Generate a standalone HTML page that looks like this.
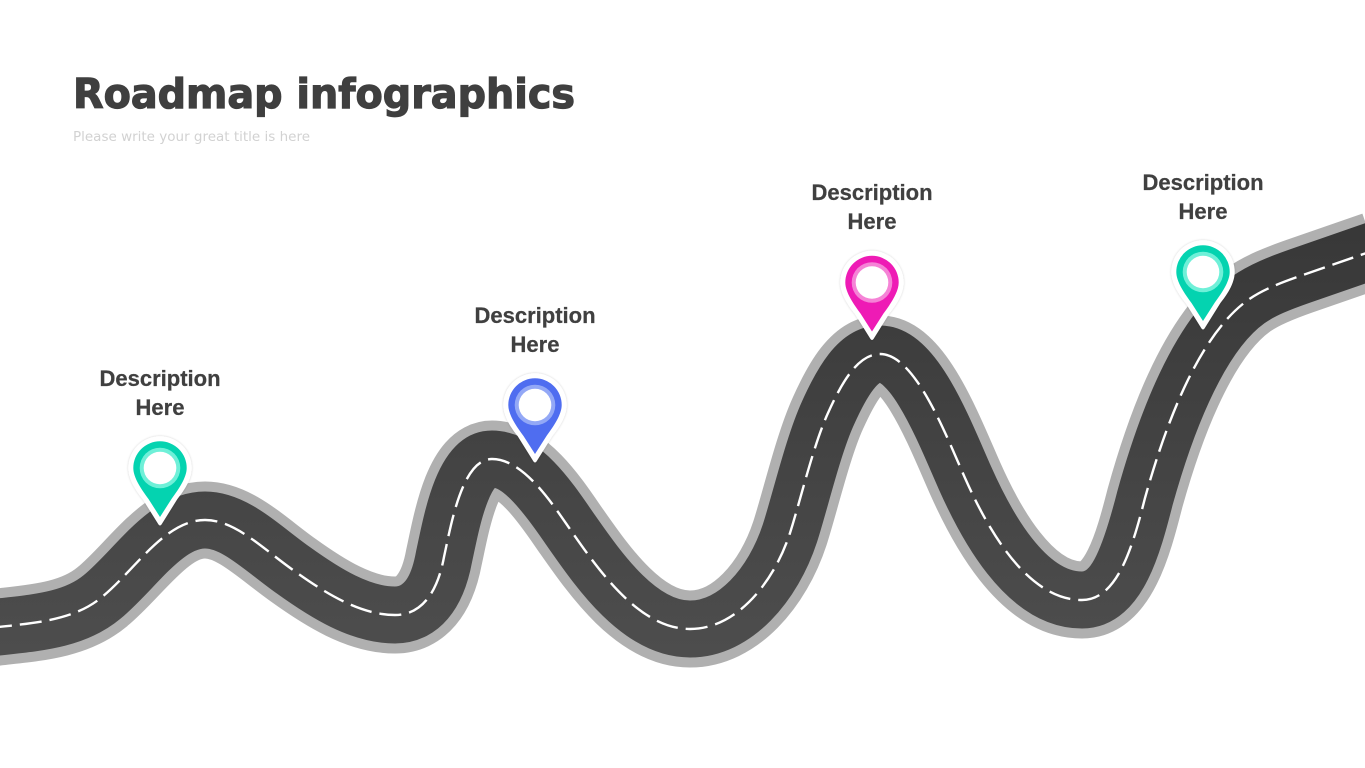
<!DOCTYPE html>
<html><head><meta charset="utf-8"><style>
html,body{margin:0;padding:0;background:#fff;width:1365px;height:768px;overflow:hidden}
svg{display:block}
.d{font:bold 22px "Liberation Sans",sans-serif;fill:#404040;stroke:#404040;stroke-width:.25;text-anchor:middle}
</style></head><body>
<svg width="1365" height="768" viewBox="0 0 1365 768" xmlns="http://www.w3.org/2000/svg">
<defs>
<path id="road" fill="none" d="M-10,628 C30,623 72,622 102,597 C135,570 165,520 205,520 C235,520 262,548 293,570 C325,593 360,615 395,615 C420,615 437,595 444,557 C451,525 462,459 492,459 C525,459 555,508 572,532 C600,572 640,629 690,629 C735,629 773,585 790,533 C800,502 813,446 828,413 C842,382 858,354 880,354 C915,354 945,433 965,478 C985,523 1025,600 1082,600 C1118,600 1133,545 1145,498 C1162,437 1195,338 1248,300 C1262,290 1280,283 1300,276 L1375,250"/>
<linearGradient id="asphalt" gradientUnits="userSpaceOnUse" x1="0" y1="230" x2="0" y2="650">
<stop offset="0" stop-color="#383838"/><stop offset="1" stop-color="#4d4d4d"/>
</linearGradient>
<filter id="s" x="-20%" y="-20%" width="140%" height="140%"><feDropShadow dx="0" dy="0" stdDeviation="1" flood-color="#000" flood-opacity=".2"/></filter>
<path id="o" d="M-31.7,0 A31.7,31.7 0 1 1 31.7,0 C31.7,12 23,24 17.4,31 L1.5,56.5 Q0,58.5 -1.5,56.5 L-17.4,31 C-23,24 -31.7,12 -31.7,0Z"/>
<path id="c" d="M-26.7,0 A26.7,26.7 0 1 1 26.7,0 C26.7,10 18,22 11.5,31 L0,49 L-11.5,31 C-18,22 -26.7,10 -26.7,0Z"/>
</defs>
<use href="#road" stroke="#b0b0b0" stroke-width="77"/>
<use href="#road" stroke="url(#asphalt)" stroke-width="57"/>
<use href="#road" stroke="#fff" stroke-width="2.4" stroke-dasharray="22 8"/>

<text x="73" y="108" font-family="DejaVu Sans" font-weight="bold" font-size="41" fill="#3f3f3f" stroke="#3f3f3f" stroke-width="1.2" textLength="502" lengthAdjust="spacingAndGlyphs">Roadmap infographics</text>
<text x="73" y="141" font-family="DejaVu Sans" font-size="13" fill="#d2d2d2" textLength="237" lengthAdjust="spacingAndGlyphs">Please write your great title is here</text>

<g transform="translate(160,468)"><use href="#o" fill="#fff" filter="url(#s)"/><use href="#c" fill="#04d3b0"/><circle r="20.3" fill="#6ff0d8"/><circle r="16.3" fill="#fff"/></g>
<g transform="translate(535,405)"><use href="#o" fill="#fff" filter="url(#s)"/><use href="#c" fill="#4f6df0"/><circle r="20.3" fill="#93a8f6"/><circle r="16.3" fill="#fff"/></g>
<g transform="translate(872,282.5)"><use href="#o" fill="#fff" filter="url(#s)"/><use href="#c" fill="#ee1bb5"/><circle r="20.3" fill="#f583d6"/><circle r="16.3" fill="#fff"/></g>
<g transform="translate(1203,272)"><use href="#o" fill="#fff" filter="url(#s)"/><use href="#c" fill="#04d3b0"/><circle r="20.3" fill="#6ff0d8"/><circle r="16.3" fill="#fff"/></g>

<text class="d" x="160" y="386">Description</text><text class="d" x="160" y="415">Here</text>
<text class="d" x="535" y="323">Description</text><text class="d" x="535" y="352">Here</text>
<text class="d" x="872" y="200">Description</text><text class="d" x="872" y="229">Here</text>
<text class="d" x="1203" y="190">Description</text><text class="d" x="1203" y="219">Here</text>
</svg>
</body></html>
